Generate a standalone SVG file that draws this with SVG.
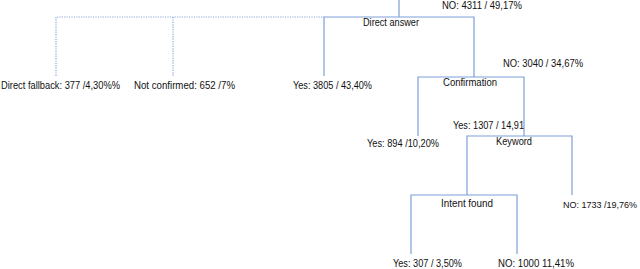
<svg xmlns="http://www.w3.org/2000/svg" width="640" height="269" viewBox="0 0 640 269">
<style>
text{font-family:"Liberation Sans",Arial,sans-serif;font-size:10px;fill:#111}
.e{fill:none;stroke:#7f9fd9;stroke-width:1.2}
.d{fill:none;stroke:#8aa6dc;stroke-width:1.2;stroke-dasharray:1.2 1.2}
</style>
<rect width="640" height="269" fill="#fff"/>
<g id="connectors">
<path class="e" d="M399 0V17"/>
<path class="d" d="M56 76V17H324M173 17V76"/>
<path class="e" d="M324 76V17H474V77"/>
<path class="e" d="M418 136V77H524V136"/>
<path class="e" d="M467 195V136H572V195"/>
<path class="e" d="M411 254V195H517V254"/>
</g>
<g id="root"><text x="442" y="9" textLength="80" lengthAdjust="spacingAndGlyphs">NO: 4311 / 49,17%</text></g>
<g id="direct-answer"><text x="363" y="26" textLength="56" lengthAdjust="spacingAndGlyphs">Direct answer</text></g>
<g id="direct-fallback"><text x="1" y="89" textLength="119" lengthAdjust="spacingAndGlyphs">Direct fallback: 377 /4,30%%</text></g>
<g id="not-confirmed"><text x="134" y="89" textLength="101" lengthAdjust="spacingAndGlyphs">Not confirmed: 652 /7%</text></g>
<g id="yes-3805"><text x="293" y="89" textLength="79" lengthAdjust="spacingAndGlyphs">Yes: 3805 / 43,40%</text></g>
<g id="no-3040"><text x="503" y="67" textLength="80" lengthAdjust="spacingAndGlyphs">NO: 3040 / 34,67%</text></g>
<g id="confirmation"><text x="443" y="86" textLength="54" lengthAdjust="spacingAndGlyphs">Confirmation</text></g>
<g id="yes-1307"><text x="453" y="129" textLength="71" lengthAdjust="spacingAndGlyphs">Yes: 1307 / 14,91</text></g>
<g id="yes-894"><text x="367" y="147" textLength="72" lengthAdjust="spacingAndGlyphs">Yes: 894 /10,20%</text></g>
<g id="keyword"><text x="496" y="145" textLength="36" lengthAdjust="spacingAndGlyphs">Keyword</text></g>
<g id="no-1733"><text x="563" y="208" style="font-size:9px">NO: 1733 /19,76%</text></g>
<g id="intent-found"><text x="441" y="207" textLength="52" lengthAdjust="spacingAndGlyphs">Intent found</text></g>
<g id="yes-307"><text x="393" y="267" textLength="69" lengthAdjust="spacingAndGlyphs">Yes: 307 / 3,50%</text></g>
<g id="no-1000"><text x="498" y="267" textLength="76" lengthAdjust="spacingAndGlyphs">NO: 1000 11,41%</text></g>
</svg>
